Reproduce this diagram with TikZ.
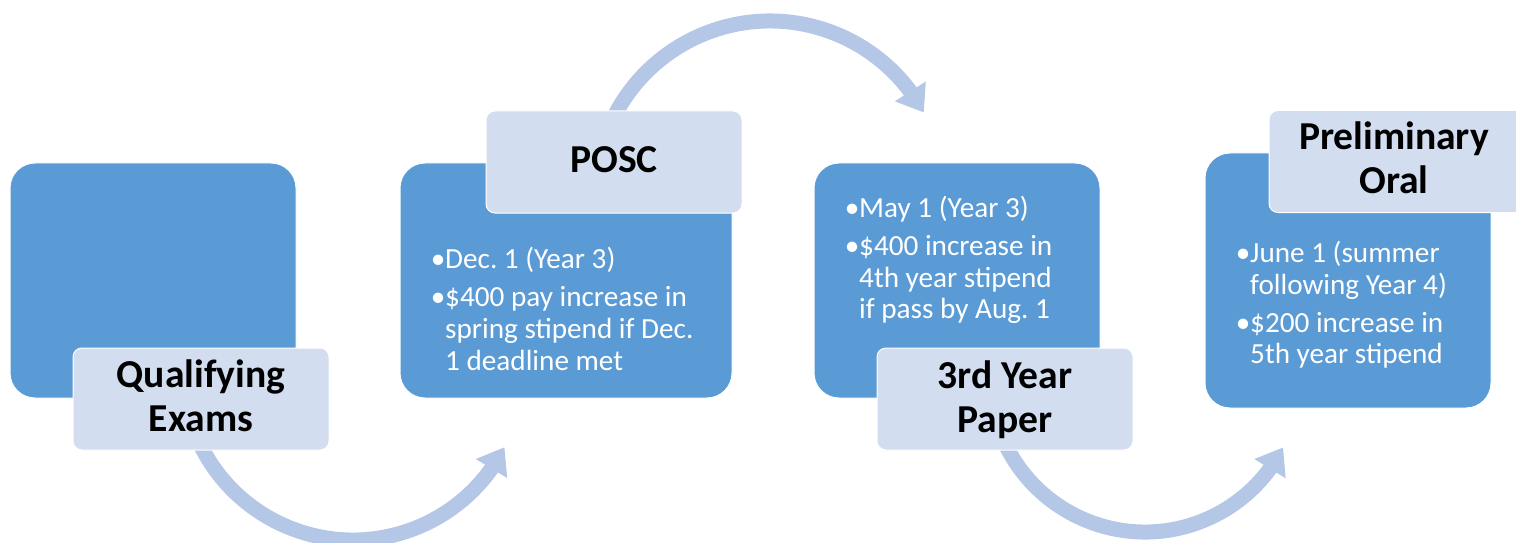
\documentclass[tikz,border=0pt]{standalone}
\usepackage{fontspec}
\setmainfont{Carlito}
\usetikzlibrary{arrows.meta,bending,calc}
\definecolor{boxblue}{HTML}{5B9BD5}
\definecolor{labfill}{HTML}{D2DEEF}
\definecolor{arrowc}{HTML}{B4C7E7}
\newcommand\bl{\makebox[14pt][c]{•}}
\newcommand\hi{\hspace*{14pt}}
\frenchspacing
\begin{document}
\begin{tikzpicture}[x=1pt,y=1pt,
  bigbox/.style={rectangle, rounded corners=25pt, fill=boxblue, draw=white, line width=1pt, inner sep=0pt, outer sep=0pt},
  labbox/.style={rectangle, rounded corners=9pt, fill=labfill, draw=white, line width=1pt, minimum width=256pt, minimum height=102pt, inner sep=0pt, outer sep=0pt},
  bodytxt/.style={anchor=base west, inner sep=0pt, text=white, font=\fontsize{29.2}{32}\selectfont},
  labtxt/.style={anchor=base, inner sep=0pt, text=black, font=\fontsize{39.6}{44}\selectfont\bfseries},
  flow/.style={draw=arrowc, line width=15pt, -{Triangle[length=25pt,width=35pt]}}]
\clip (0,0) rectangle (1516,542);
% curved arrows
\coordinate (c1) at (353,172);
\coordinate (c2) at (770,346);
\coordinate (c3) at (1145,165);
\draw[flow] (c1) ++(200:170) arc[start angle=200, end angle=333, radius=170];
\draw[flow] (c2) ++(158:175) arc[start angle=158, end angle=28.5, radius=175];
\draw[flow] (c3) ++(200:155) arc[start angle=200, end angle=333, radius=155];
% main boxes
\node[bigbox, minimum width=286pt, minimum height=235pt] (b1) at (153,261.5) {};
\node[bigbox, minimum width=332pt, minimum height=235pt] (b2) at (566,261.5) {};
\node[bigbox, minimum width=286pt, minimum height=235pt] (b3) at (957,261.5) {};
\node[bigbox, minimum width=286pt, minimum height=255pt] (b4) at (1348,261.5) {};
% label boxes
\node[labbox] (l1) at (201,143) {};
\node[labbox] (l2) at (614,380) {};
\node[labbox] (l3) at (1005,143) {};
\node[labbox] (l4) at (1397,380.5) {};
% label texts
\node[labtxt] (t1) at ([yshift=12pt]l1.center) {\parbox[t]{250pt}{\centering Qualifying\\Exams}};
\node[labtxt] (t2) at ([yshift=-11pt]l2.center) {POSC};
\node[labtxt] (t3) at ([yshift=11pt]l3.center) {\parbox[t]{250pt}{\centering 3rd Year\\Paper}};
\node[labtxt] (t4) at ([xshift=-3pt,yshift=11.5pt]l4.center) {\parbox[t]{250pt}{\centering Preliminary\\Oral}};
% body texts
\node[bodytxt] (d2) at (431,274) {\parbox[t]{300pt}{\frenchspacing\bl Dec. 1 (Year 3)\\[6pt]\bl\$400 pay increase in\\\hi spring stipend if Dec.\\\hi 1 deadline met}};
\node[bodytxt] (d3) at (845,325) {\parbox[t]{300pt}{\frenchspacing\bl May 1 (Year 3)\\[6pt]\bl\$400 increase in\\\hi 4th year stipend\\\hi if pass by Aug. 1}};
\node[bodytxt] (d4) at (1236,280) {\parbox[t]{300pt}{\frenchspacing\bl June 1 (summer\\\hi following Year 4)\\[6pt]\bl\$200 increase in\\\hi 5th year stipend}};
\end{tikzpicture}
\end{document}
